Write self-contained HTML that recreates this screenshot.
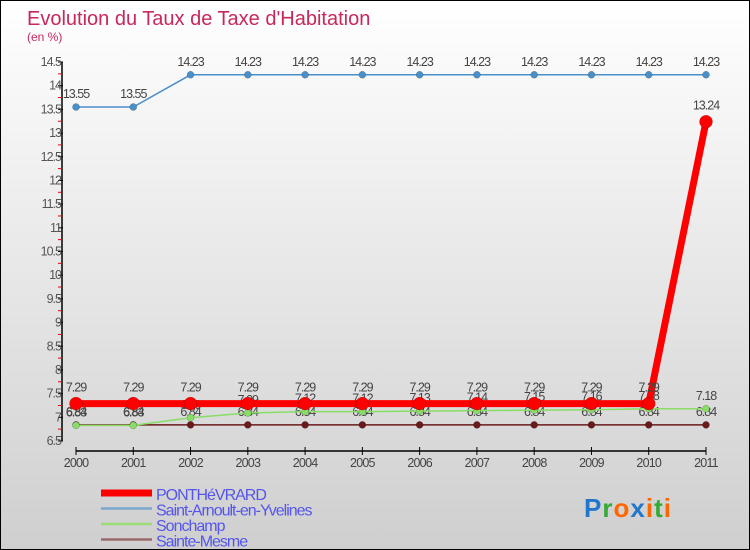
<!DOCTYPE html>
<html><head><meta charset="utf-8"><style>
body{margin:0;}
#c{width:750px;height:550px;position:relative;box-sizing:border-box;border:1px solid #000;background:linear-gradient(#ffffff,#cfcfcf);font-family:"Liberation Sans",sans-serif;overflow:hidden}
svg text{font-family:"Liberation Sans",sans-serif}
</style></head><body>
<div id="c">
<svg id="s" width="750" height="550">
<text x="26" y="24" font-size="20" fill="#c8285a">Evolution du Taux de Taxe d'Habitation</text>
<text x="26" y="40" font-size="12" fill="#c8285a">(en %)</text>
</svg>
</div>
<script>
const years=[2000,2001,2002,2003,2004,2005,2006,2007,2008,2009,2010,2011];
const ponth=[7.29,7.29,7.29,7.29,7.29,7.29,7.29,7.29,7.29,7.29,7.29,13.24];
const stArnoult=[13.55,13.55,14.23,14.23,14.23,14.23,14.23,14.23,14.23,14.23,14.23,14.23];
const sonchamp=[6.83,6.83,6.99,7.09,7.12,7.12,7.13,7.14,7.15,7.16,7.18,7.18];
const steMesme=[6.84,6.84,6.84,6.84,6.84,6.84,6.84,6.84,6.84,6.84,6.84,6.84];
const yTicks=[6.5,7,7.5,8,8.5,9,9.5,10,10.5,11,11.5,12,12.5,13,13.5,14,14.5];
const NS="http://www.w3.org/2000/svg";
const s=document.getElementById('s');
const X=i=>75+i*(630/11);
const Y=v=>440-(v-6.5)*(379/8);
function mk(t,a,p){const e=document.createElementNS(NS,t);for(const k in a)e.setAttribute(k,a[k]);(p||s).appendChild(e);return e;}
let ax=mk('line',{x1:61,y1:61,x2:61,y2:440,stroke:'#000','stroke-width':1.5});


yTicks.forEach(v=>{
 mk('line',{x1:57,y1:Y(v),x2:62,y2:Y(v),stroke:'#000'});
 if(v<14.5){mk('line',{x1:57,y1:Y(v+0.25),x2:61,y2:Y(v+0.25),stroke:'#e00'});}
 const t=mk('text',{x:60,y:Y(v)+4,'font-size':12.5,fill:'#555','text-anchor':'end','letter-spacing':'-1'});
 
 
 t.textContent=String(v);
});
let xa=mk('line',{x1:75,y1:450,x2:705,y2:450,stroke:'#000','stroke-width':1.5});


years.forEach((y,i)=>{
 mk('line',{x1:X(i),y1:446,x2:X(i),y2:454,stroke:'#000'});
 const t=mk('text',{x:X(i),y:466,'font-size':12.5,fill:'#444','text-anchor':'middle','letter-spacing':'-0.8'});
 
 
 t.textContent=y;
});
function series(vals,color,w,r,name,labOff){
 const g=mk('g',{});
 
 
 mk('polyline',{points:vals.map((v,i)=>X(i)+','+Y(v)).join(' '),fill:'none',stroke:color,'stroke-width':w},g);
 vals.forEach((v,i)=>{
  const c=mk('circle',{cx:X(i),cy:Y(v),r:r,fill:color,stroke:'rgba(0,0,0,0.3)','stroke-width':0.5},g);
  
  
  const t=mk('text',{x:X(i),y:Y(v)+labOff,'font-size':12.5,fill:'#444','text-anchor':'middle','letter-spacing':'-1'},g);
  
  
  t.textContent=v.toFixed(2).replace(/0$/,'');
 });
}
series(stArnoult,'#4a8fc8',1.5,3.5,'saint-arnoult-series',-9);
series(steMesme,'#6a1a1a',1.5,3.5,'sainte-mesme-series',-9);
series(sonchamp,'#88dd66',1.5,3.5,'sonchamp-series',-9);
series(ponth,'#ff0000',7,6.5,'ponthevrard-series',-12);
const leg=[['PONTHéVRARD','#ff0000',7],['Saint-Arnoult-en-Yvelines','#7aa8cc',2.5],['Sonchamp','#99dd77',2.5],['Sainte-Mesme','#9a6a6a',2.5]];
leg.forEach((l,i)=>{
 const g=mk('g',{});
 
 
 const y=502+i*15.5;
 mk('line',{x1:100,y1:y-10,x2:151,y2:y-10,stroke:l[1],'stroke-width':l[2]},g);
 const t=mk('text',{x:155,y:y-3,'font-size':16,fill:'#5555ee','letter-spacing':'-1'},g);
 t.textContent=l[0];
});
const lg=mk('text',{x:583,y:516,'font-size':26,'font-weight':'bold','letter-spacing':'1'});


[['P','#2277cc'],['r','#33aa33'],['o','#ff6600'],['x','#2277cc'],['i','#ff6600'],['t','#33aa33'],['i','#ff6600']].forEach(c=>{const sp=mk('tspan',{fill:c[1]},lg);sp.textContent=c[0];});
</script>
</body></html>
